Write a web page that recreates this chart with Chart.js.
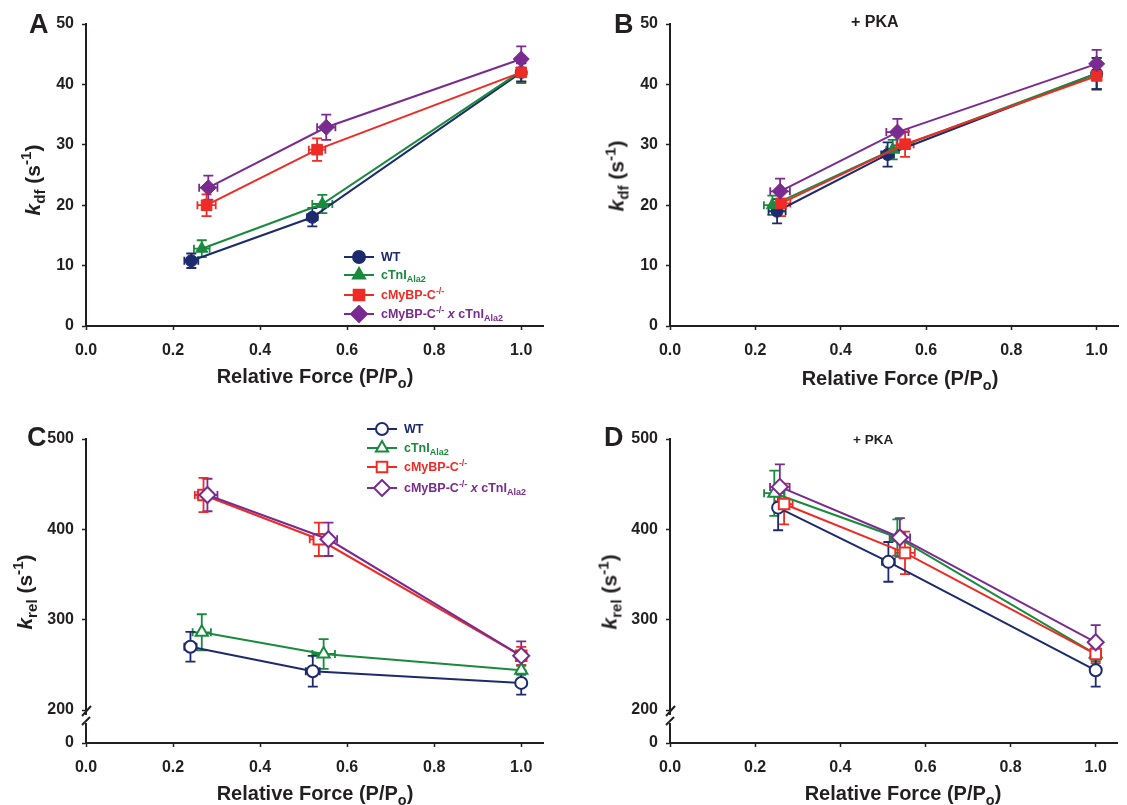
<!DOCTYPE html>
<html>
<head>
<meta charset="utf-8">
<script src="https://cdn.jsdelivr.net/npm/chart.js@4.4.1/dist/chart.umd.min.js"></script>
<style>
  body { margin: 0; background: #fff; width: 1127px; height: 805px; position: relative; overflow: hidden;
         font-family: 'Liberation Sans', Arial, sans-serif; font-weight: bold; color: #231f20; }
  .panel { position: absolute; }
  .txt { position: absolute; white-space: nowrap; line-height: 1; }
  .ytitle { transform: translate(-50%, -50%) rotate(-90deg); font-size: 21px; }
  .xtitle { transform: translate(-50%, -50%); font-size: 20px; }
  .letter { font-size: 27px; }
  sub { font-size: 0.72em; vertical-align: -0.35em; line-height: 0; }
  sup { font-size: 0.72em; vertical-align: 0.55em; line-height: 0; }
  .leg { position: absolute; display: flex; align-items: center; height: 18px; font-size: 12.5px; white-space: nowrap; }
  .leg canvas { margin-right: 7px; }
</style>
</head>
<body>

<div class="panel" style="left:0;top:0"><canvas id="chartA" width="563" height="400"></canvas></div>
<div class="panel" style="left:570px;top:0"><canvas id="chartB" width="557" height="400"></canvas></div>
<div class="panel" style="left:0;top:400px"><canvas id="chartC" width="563" height="405"></canvas></div>
<div class="panel" style="left:570px;top:400px"><canvas id="chartD" width="557" height="405"></canvas></div>

<div class="txt letter" style="left:29px;top:11px">A</div>
<div class="txt letter" style="left:614px;top:11px">B</div>
<div class="txt letter" style="left:27px;top:424px">C</div>
<div class="txt letter" style="left:604px;top:424px">D</div>

<div class="txt" style="left:851px;top:14px;font-size:16px">+ PKA</div>
<div class="txt" style="left:853px;top:433px;font-size:13.5px">+ PKA</div>

<div class="txt ytitle" style="left:32px;top:180px"><i>k</i><sub>df</sub> (s<sup>-1</sup>)</div>
<div class="txt ytitle" style="left:616px;top:176px"><i>k</i><sub>df</sub> (s<sup>-1</sup>)</div>
<div class="txt ytitle" style="left:24px;top:592px"><i>k</i><sub>rel</sub> (s<sup>-1</sup>)</div>
<div class="txt ytitle" style="left:609px;top:592px"><i>k</i><sub>rel</sub> (s<sup>-1</sup>)</div>

<div class="txt xtitle" style="left:315px;top:376px">Relative Force (P/P<sub>o</sub>)</div>
<div class="txt xtitle" style="left:900px;top:378px">Relative Force (P/P<sub>o</sub>)</div>
<div class="txt xtitle" style="left:315px;top:793px">Relative Force (P/P<sub>o</sub>)</div>
<div class="txt xtitle" style="left:903px;top:793px">Relative Force (P/P<sub>o</sub>)</div>

<script>
// groups
const groupLabels = ['WT', 'cTnI<sub>Ala2</sub>', 'cMyBP-C<sup>-/-</sup>', 'cMyBP-C<sup>-/-</sup> <i>x</i> cTnI<sub>Ala2</sub>'];
const groupColors = ['#1d2a6d', '#1a8a3e', '#ee2b25', '#7a2b8f'];
const groupShapes = ['circle', 'triangle', 'rect', 'rectRot'];

// ticks
const forceTicks = [0, 0.2, 0.4, 0.6, 0.8, 1.0];
const kdfTicks = [0, 10, 20, 30, 40, 50];
const krelTicks = [0, 200, 300, 400, 500];
const krelFloor = 163.5; // where "0" sits below the axis break

// each point: [relative force, rate, force SEM, rate SEM]
// A: kdf, no PKA
const kdfWT    = [[0.242, 10.8, 0.016, 1.2], [0.520, 18.0, 0.012, 1.5], [1.0, 42.0, 0, 1.5]];
const kdfAla2  = [[0.266, 12.8, 0.018, 1.4], [0.543, 20.2, 0.023, 1.5], [1.0, 42.2, 0, 2.0]];
const kdfKO    = [[0.277, 20.0, 0.021, 1.8], [0.531, 29.2, 0.019, 1.85], [1.0, 42.0, 0, 1.6]];
const kdfKOAla = [[0.281, 22.9, 0.021, 2.0], [0.552, 32.9, 0.021, 2.1], [1.0, 44.2, 0, 2.1]];
// B: kdf, + PKA
const kdfPkaWT    = [[0.251, 19.0, 0.020, 2.0], [0.510, 28.4, 0.015, 2.0], [1.0, 41.8, 0, 2.6]];
const kdfPkaAla2  = [[0.240, 20.0, 0.020, 1.6], [0.522, 29.2, 0.015, 1.6], [1.0, 41.8, 0, 2.6]];
const kdfPkaKO    = [[0.260, 20.3, 0.022, 2.1], [0.551, 30.1, 0.020, 2.1], [1.0, 41.4, 0, 2.2]];
const kdfPkaKOAla = [[0.258, 22.3, 0.023, 2.1], [0.533, 32.1, 0.026, 2.2], [1.0, 43.4, 0, 2.3]];
// C: krel, no PKA
const krelWT    = [[0.240, 270, 0.014, 16.5], [0.521, 243, 0.016, 17], [1.0, 230, 0, 13]];
const krelAla2  = [[0.266, 286, 0.021, 20], [0.546, 262, 0.026, 16.5], [1.0, 244, 0, 5]];
const krelKO    = [[0.270, 438, 0.020, 19], [0.535, 389, 0.021, 18.5], [1.0, 260, 0, 10]];
const krelKOAla = [[0.279, 438, 0.023, 18], [0.557, 389, 0.020, 18.5], [1.0, 260, 0, 16]];
// D: krel, + PKA
const krelPkaWT    = [[0.254, 424, 0.010, 25], [0.513, 364, 0.015, 22], [1.0, 244, 0, 18]];
const krelPkaAla2  = [[0.245, 440, 0.024, 25], [0.534, 391, 0.015, 20], [1.0, 262, 0, 8]];
const krelPkaKO    = [[0.268, 428, 0.020, 22.5], [0.552, 374, 0.023, 23.5], [1.0, 262, 0, 10]];
const krelPkaKOAla = [[0.258, 447, 0.023, 25], [0.540, 391, 0.024, 21.5], [1.0, 275, 0, 19]];

const ink = '#231f20';
const font = 'Liberation Sans, Arial, sans-serif';
const filledRadius = [6, 7, 7.5, 8];
const openRadius = [6, 7, 7.5, 8];

const errorBars = {
  id: 'errorBars',
  beforeDatasetsDraw(chart) {
    const { ctx, scales: { x, y } } = chart;
    ctx.save();
    ctx.lineWidth = 1.8;
    chart.data.datasets.slice().reverse().forEach(ds => {
      ctx.strokeStyle = ds.borderColor;
      ds.data.forEach(p => {
        const px = x.getPixelForValue(p.x), py = y.getPixelForValue(p.y);
        ctx.beginPath();
        if (p.yErr) {
          const t = y.getPixelForValue(p.y + p.yErr), b = y.getPixelForValue(p.y - p.yErr);
          ctx.moveTo(px, t); ctx.lineTo(px, b);
          ctx.moveTo(px - 5, t); ctx.lineTo(px + 5, t);
          ctx.moveTo(px - 5, b); ctx.lineTo(px + 5, b);
        }
        if (p.xErr) {
          const l = x.getPixelForValue(p.x - p.xErr), r = x.getPixelForValue(p.x + p.xErr);
          ctx.moveTo(l, py); ctx.lineTo(r, py);
          ctx.moveTo(l, py - 4); ctx.lineTo(l, py + 4);
          ctx.moveTo(r, py - 4); ctx.lineTo(r, py + 4);
        }
        ctx.stroke();
      });
    });
    ctx.restore();
  }
};

const axisBreak = {
  id: 'axisBreak',
  afterDraw(chart) {
    const { ctx, scales: { y } } = chart;
    const ax = y.right, p = y.getPixelForValue(200);
    ctx.save();
    ctx.fillStyle = '#fff';
    ctx.fillRect(ax - 3, p + 5, 6, 8);
    ctx.strokeStyle = ink;
    ctx.lineWidth = 2;
    ctx.beginPath();
    ctx.moveTo(ax - 4, p + 6); ctx.lineTo(ax + 5, p - 4);
    ctx.moveTo(ax - 4, p + 15); ctx.lineTo(ax + 4, p + 7);
    ctx.stroke();
    ctx.restore();
  }
};

function buildSets(groups, open) {
  return groups.map((rows, i) => ({
    label: groupLabels[i].replace(/<[^>]+>/g, ''),
    data: rows.map(r => ({ x: r[0], y: r[1], xErr: r[2], yErr: r[3] })),
    showLine: true,
    borderColor: groupColors[i],
    borderWidth: 2,
    pointStyle: groupShapes[i],
    pointRadius: open ? openRadius[i] : filledRadius[i],
    pointBackgroundColor: open ? '#fff' : groupColors[i],
    pointBorderColor: groupColors[i],
    pointBorderWidth: open ? 2 : 1,
    order: 3 - i
  }));
}

function scaleStyle(pad) {
  return {
    border: { display: true, color: ink, width: 2 },
    grid: { drawOnChartArea: false, drawTicks: true, tickLength: 4, tickWidth: 1.5, tickColor: ink },
    ticks: { color: ink, padding: pad, font: { family: font, size: 16, weight: 'bold' } }
  };
}

function makePanel(id, groups, opt) {
  const xs = scaleStyle(11), ys = scaleStyle(8);
  new Chart(document.getElementById(id), {
    type: 'scatter',
    data: { datasets: buildSets(groups, opt.open) },
    options: {
      responsive: false,
      animation: false,
      layout: { padding: { top: opt.top, right: opt.right, left: 0, bottom: 0 } },
      plugins: { legend: { display: false }, tooltip: { enabled: false } },
      scales: {
        x: Object.assign(xs, {
          type: 'linear', min: 0, max: 1.05,
          afterBuildTicks: s => { s.ticks = forceTicks.map(v => ({ value: v })); },
          afterFit: s => { s.height = opt.xh; },
          ticks: Object.assign(xs.ticks, { callback: v => v.toFixed(1) })
        }),
        y: Object.assign(ys, {
          type: 'linear', min: opt.ymin, max: opt.ymax,
          afterBuildTicks: s => { s.ticks = opt.yticks.map(v => ({ value: v === 0 ? opt.ymin : v })); },
          afterFit: s => { s.width = opt.yw; },
          ticks: Object.assign(ys.ticks, { callback: v => (v === opt.ymin ? '0' : v) })
        })
      }
    },
    plugins: opt.broken ? [errorBars, axisBreak] : [errorBars]
  });
}

makePanel('chartA', [kdfWT, kdfAla2, kdfKO, kdfKOAla],
  { open: false, top: 24, right: 20, xh: 74, yw: 86, ymin: 0, ymax: 50, yticks: kdfTicks });
makePanel('chartB', [kdfPkaWT, kdfPkaAla2, kdfPkaKO, kdfPkaKOAla],
  { open: false, top: 24, right: 0, xh: 74, yw: 100, ymin: 0, ymax: 50, yticks: kdfTicks });
makePanel('chartC', [krelWT, krelAla2, krelKO, krelKOAla],
  { open: true, top: 39, right: 20, xh: 62, yw: 86, ymin: krelFloor, ymax: 500, yticks: krelTicks, broken: true });
makePanel('chartD', [krelPkaWT, krelPkaAla2, krelPkaKO, krelPkaKOAla],
  { open: true, top: 39, right: 0, xh: 62, yw: 100, ymin: krelFloor, ymax: 500, yticks: krelTicks, broken: true });

// legends (HTML, so subscripts and superscripts stay real text)
function makeLegend(left, centers, open) {
  centers.forEach((cy, i) => {
    const row = document.createElement('div');
    row.className = 'leg';
    row.style.left = left + 'px';
    row.style.top = (cy - 9) + 'px';
    row.style.color = groupColors[i];
    const c = document.createElement('canvas');
    c.width = 30; c.height = 18;
    const g = c.getContext('2d');
    g.strokeStyle = groupColors[i]; g.lineWidth = 2;
    g.beginPath(); g.moveTo(0, 9); g.lineTo(30, 9); g.stroke();
    g.fillStyle = open ? '#fff' : groupColors[i];
    Chart.helpers.drawPoint(g, {
      pointStyle: groupShapes[i], radius: open ? openRadius[i] : filledRadius[i], rotation: 0,
      borderWidth: open ? 2 : 1
    }, 15, 9);
    row.appendChild(c);
    const t = document.createElement('span');
    t.innerHTML = groupLabels[i];
    row.appendChild(t);
    document.body.appendChild(row);
  });
}
makeLegend(344, [257, 275, 295, 314], false);
makeLegend(367, [429, 448, 467, 488], true);
</script>
</body>
</html>
